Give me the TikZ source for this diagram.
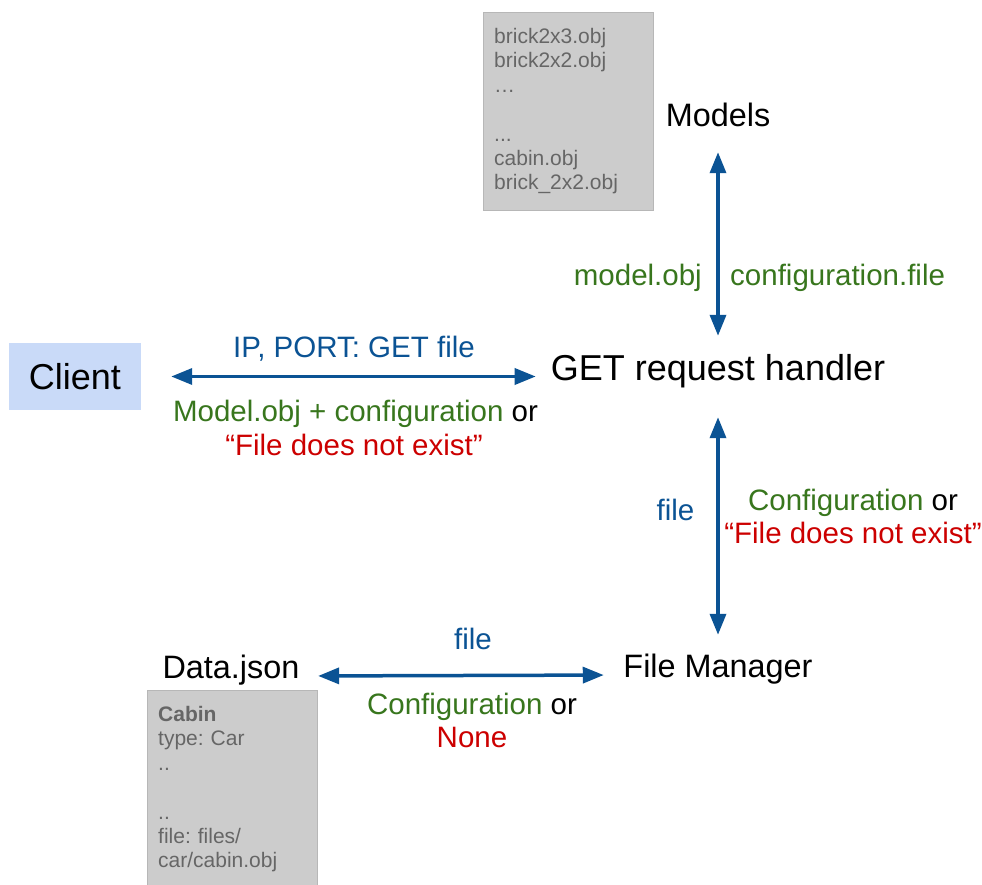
\documentclass[tikz,border=0pt]{standalone}
\usepackage{fontspec}
\setmainfont{Liberation Sans}
\frenchspacing
\usetikzlibrary{arrows.meta}

\definecolor{linkblue}{HTML}{0B5394}
\definecolor{okgreen}{HTML}{38761D}
\definecolor{errred}{HTML}{CC0000}
\definecolor{boxgray}{HTML}{CCCCCC}
\definecolor{boxline}{HTML}{B7B7B7}
\definecolor{boxtext}{HTML}{666666}
\definecolor{clientblue}{HTML}{C9DAF8}

\tikzset{
  big/.style={font=\fontsize{36}{40}\selectfont, inner sep=0, text height=26pt, text depth=8pt, anchor=base},
  mid/.style={font=\fontsize{32.4}{36}\selectfont, inner sep=0, text height=23.5pt, text depth=7pt, anchor=base},
  lbl/.style={font=\fontsize{29.5}{34}\selectfont, inner sep=0, anchor=base},
  files/.style={draw=boxline, fill=boxgray, text=boxtext, font=\fontsize{21}{24.4}\selectfont,
    align=left, text width=148pt, inner xsep=11pt, inner ysep=16pt, anchor=north west},
  link/.style={{Triangle[length=21pt,width=16pt]}-{Triangle[length=21pt,width=16pt]}, draw=linkblue, line width=3.5pt},
}

\begin{document}
\begin{tikzpicture}[x=1pt,y=-1pt]
  \useasboundingbox (0,0) rectangle (982,885);

  % file listings
  \node[files] (objs) at (483,12) {brick2x3.obj\\brick2x2.obj\\…\\\mbox{}\\...\\cabin.obj\\brick\_2x2.obj};
  \node[files] (json) at (147,690) {\textbf{Cabin}\\type: Car\\..\\\mbox{}\\..\\file: files/\\car/cabin.obj};

  % parts
  \node[fill=clientblue, minimum width=132pt, minimum height=67pt, font=\fontsize{36}{40}\selectfont] (client) at (75,376.5) {Client};
  \node[mid] (models) at (718,127) {Models};
  \node[big] (handler) at (718,380) {GET request handler};
  \node[mid] (manager) at (718,677) {File Manager};
  \node[mid] (data) at (231,678) {Data.json};

  % messages
  \node[lbl, text=okgreen, anchor=base east] (objlbl) at (702,285) {model.obj};
  \node[lbl, text=okgreen, anchor=base west] (conflbl) at (730,285) {configuration.file};
  \node[lbl, text=linkblue] (req) at (354,357) {IP, PORT: GET file};
  \node[lbl] (resp) at (355.5,421) {\textcolor{okgreen}{Model.obj + configuration} or};
  \node[lbl, text=errred] (resperr) at (354,455) {“File does not exist”};
  \node[lbl, text=linkblue] (fetch) at (675.5,520) {file};
  \node[lbl] (found) at (853,510) {\textcolor{okgreen}{Configuration} or};
  \node[lbl, text=errred] (missing) at (853,543) {“File does not exist”};
  \node[lbl, text=linkblue] (lookup) at (473,649) {file};
  \node[lbl] (entry) at (472,714) {\textcolor{okgreen}{Configuration} or};
  \node[lbl, text=errred] (noentry) at (472,747) {None};

  \path (models) edge[link, shorten <=18pt, shorten >=18pt] (handler);
  \path (handler) edge[link, shorten <=29pt, shorten >=18.5pt] (manager);
  \path (client.east) edge[link, shorten <=30pt, shorten >=15pt] (client.east -| handler.west);
  \path ([yshift=2pt]data.base east) edge[link, shorten <=18.5pt, shorten >=19.5pt] ([yshift=2pt]manager.base west);
\end{tikzpicture}
\end{document}
